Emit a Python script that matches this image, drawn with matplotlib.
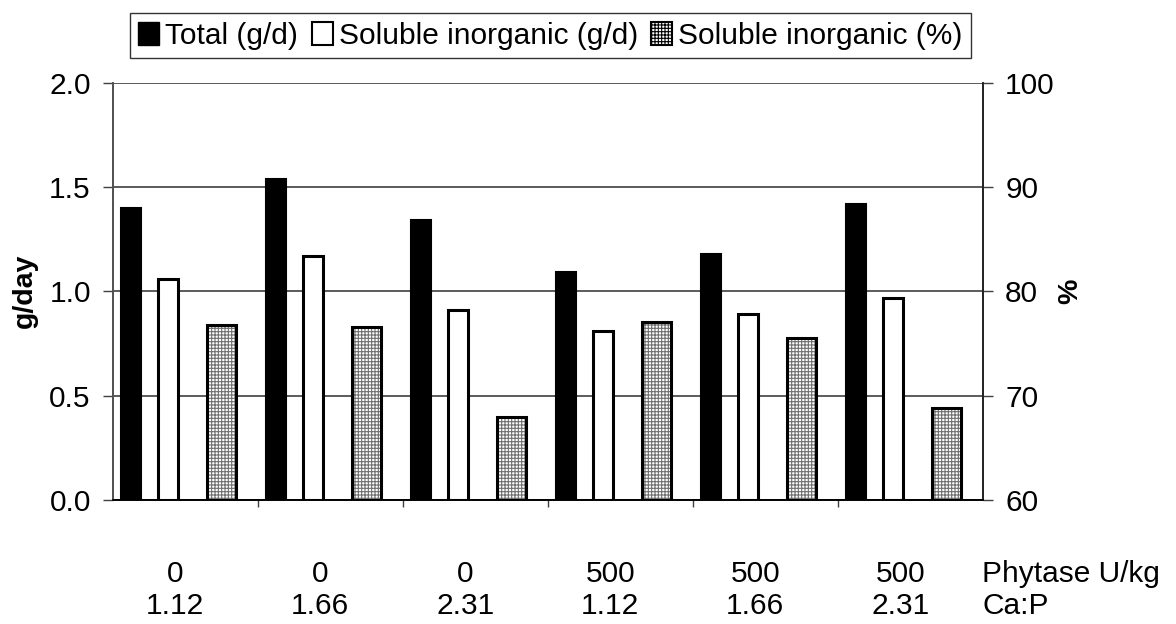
import numpy as np
import matplotlib
matplotlib.use('Agg')
import matplotlib.pyplot as plt
from matplotlib.patches import Patch

plt.rcParams['font.family'] = ['Liberation Sans', 'DejaVu Sans']
plt.rcParams['hatch.linewidth'] = 0.8

phytase = ['0', '0', '0', '500', '500', '500']
ca_p = ['1.12', '1.66', '2.31', '1.12', '1.66', '2.31']
total_gd = [1.40, 1.54, 1.34, 1.09, 1.18, 1.42]
soluble_gd = [1.06, 1.17, 0.91, 0.81, 0.89, 0.97]
soluble_pct = [76.8, 76.6, 68.0, 77.1, 75.5, 68.8]

FS = 21.5
W, H = 1176, 624
fig = plt.figure(figsize=(W / 100, H / 100), dpi=100)
ax = fig.add_axes([113 / W, 1 - 500 / H, 870 / W, 417.5 / H])
ax2 = ax.twinx()

x = np.arange(len(phytase))
ax.bar(x - 0.376, total_gd, width=0.138, color='black', edgecolor='black', lw=1.5, zorder=3)
ax.bar(x - 0.121, soluble_gd, width=0.138, color='white', edgecolor='black', lw=2.2, zorder=3)

pct = np.array(soluble_pct)
ax2.bar(x + 0.248, pct - 60, bottom=60, width=0.2, color='white', edgecolor='#707070',
        hatch='+++++', lw=0, zorder=3)
ax2.bar(x + 0.248, pct - 60, bottom=60, width=0.2, fill=False, edgecolor='black', lw=2.2, zorder=4)

ax.set_xlim(-0.5, len(phytase) - 0.5)
ax.set_ylim(0, 2.0)
ax.set_yticks([0, 0.5, 1.0, 1.5, 2.0])
ax.set_yticklabels(['0.0', '0.5', '1.0', '1.5', '2.0'])
ax2.set_ylim(60, 100)
ax2.set_yticks([60, 70, 80, 90, 100])

ax.set_axisbelow(True)
ax.yaxis.grid(True, color='#404040', lw=1.2)
ax.set_xticks(np.arange(0.5, len(phytase) - 0.5, 1.0))
ax.set_xticklabels([])
ax.tick_params(axis='x', direction='out', length=5, width=1, color='#404040')
ax.tick_params(axis='y', direction='out', length=7, width=1, pad=9, labelsize=FS, color='#404040')
ax2.tick_params(axis='y', direction='out', length=7, width=1, pad=9, labelsize=FS, color='#404040')

for a in (ax, ax2):
    a.spines['top'].set_visible(False)
    a.spines['left'].set_color('#505050')
    a.spines['right'].set_color('#202020')
    a.spines['bottom'].set_color('black')
    for s in a.spines.values():
        s.set_linewidth(1.2)

fig.text(25 / W, 1 - 291 / H, 'g/day', rotation=90, fontsize=FS - 1, fontweight='bold',
         ha='center', va='center')
fig.text(1070 / W, 1 - 291 / H, '%', rotation=90, fontsize=FS - 1, fontweight='bold',
         ha='center', va='center')

# category labels under the axis
trans = matplotlib.transforms.blended_transform_factory(ax.transData, fig.transFigure)
for i in range(len(phytase)):
    ax.text(i - 0.07, 1 - 574.5 / H, phytase[i], transform=trans, fontsize=FS, ha='center', va='center')
    ax.text(i - 0.07, 1 - 606 / H, ca_p[i], transform=trans, fontsize=FS, ha='center', va='center')
fig.text(982 / W, 1 - 574.5 / H, 'Phytase U/kg', fontsize=FS, ha='left', va='center')
fig.text(982 / W, 1 - 606 / H, 'Ca:P', fontsize=FS, ha='left', va='center')

handles = [Patch(facecolor='black', edgecolor='black'),
           Patch(facecolor='white', edgecolor='black', lw=1.5),
           Patch(facecolor='white', edgecolor='black', hatch='+++++', lw=1.5)]
labels = ['Total (g/d)', 'Soluble inorganic (g/d)', 'Soluble inorganic (%)']
leg = fig.legend(handles, labels, ncol=3, loc='center',
                 bbox_to_anchor=((125 + 976) / 2 / W, 1 - 35.5 / H),
                 fontsize=FS, frameon=True, fancybox=False, edgecolor='black',
                 handlelength=0.7, handleheight=0.8, handletextpad=0.2,
                 columnspacing=0.45, borderpad=0.3, borderaxespad=0)
leg.get_frame().set_linewidth(1)

fig.savefig('out.png', dpi=100)
